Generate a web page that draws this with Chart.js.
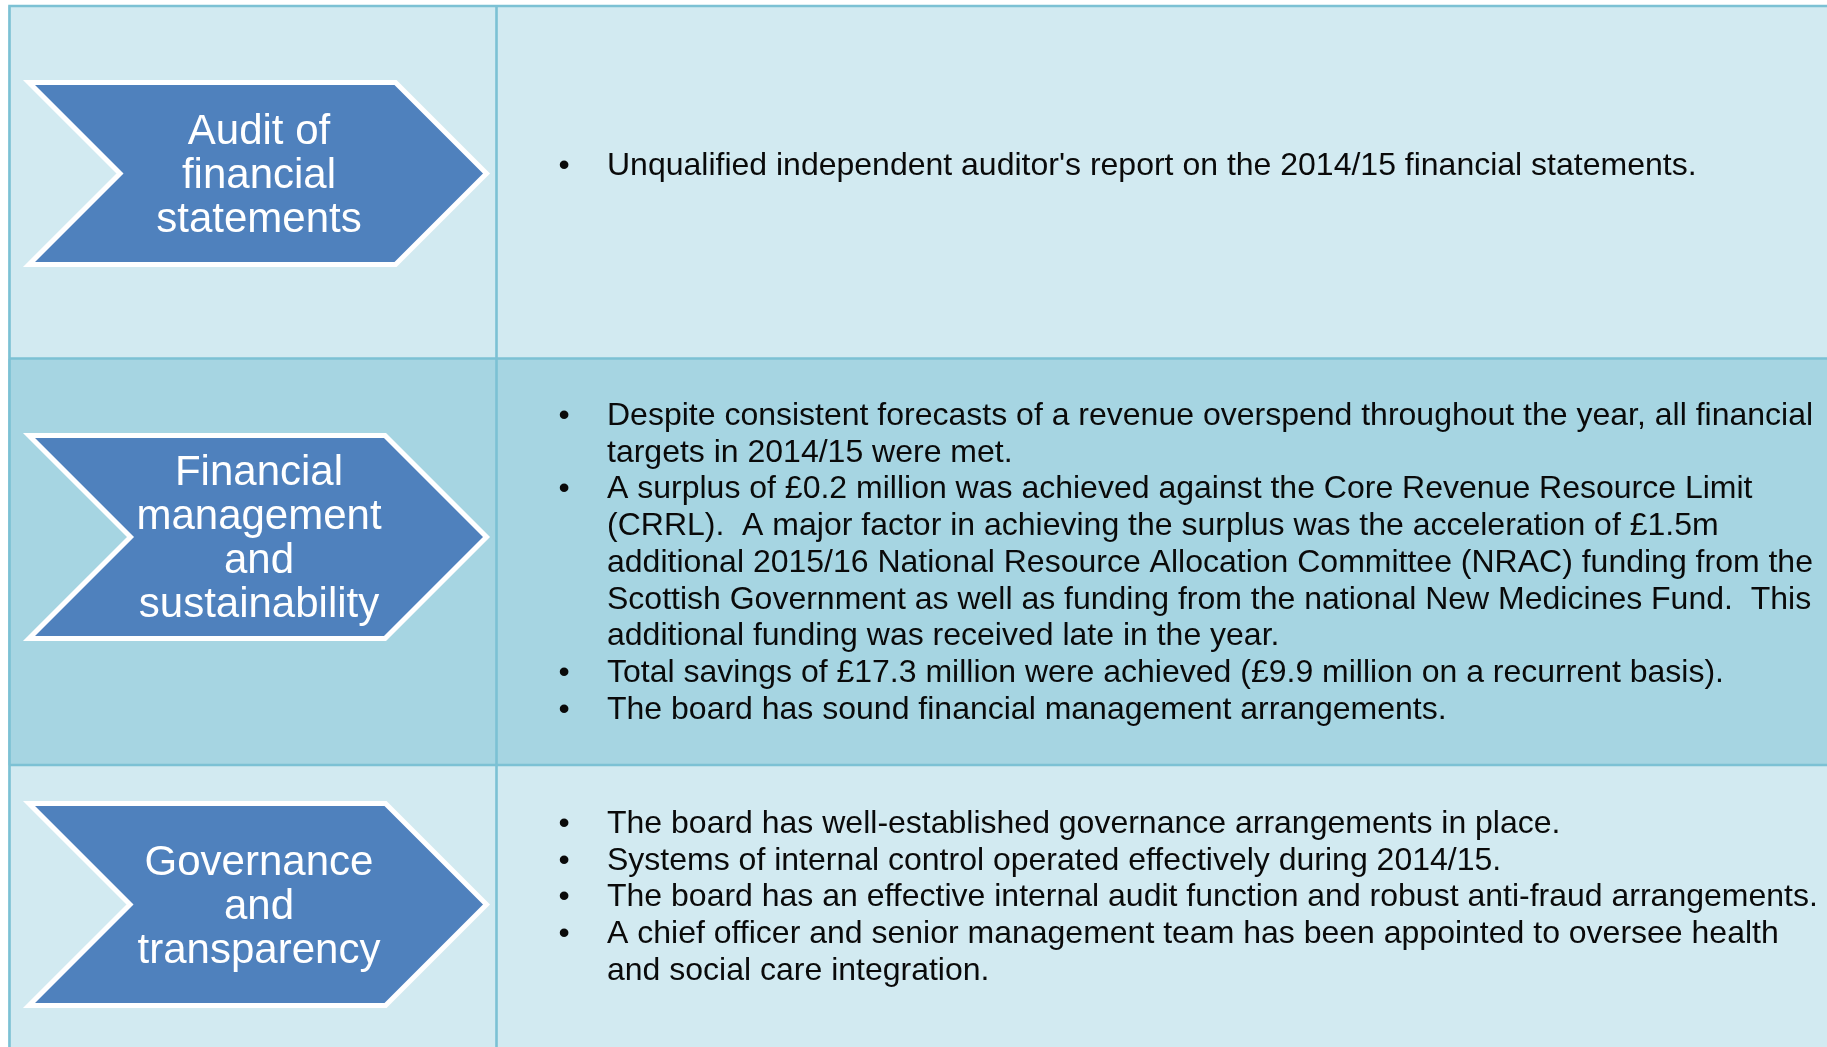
<!DOCTYPE html>
<html>
<head>
<meta charset="utf-8">
<script src="https://cdn.jsdelivr.net/npm/chart.js@4.4.1/dist/chart.umd.min.js"></script>
<style>
  html, body { margin: 0; padding: 0; background: #ffffff; overflow: hidden; }
  #wrap { position: relative; width: 1827px; height: 1047px; }
</style>
</head>
<body>
<div id="wrap"><canvas id="summaryChart"></canvas></div>
<script>
// ---- content ----
const sectionTitles = [
  ["Audit of", "financial", "statements"],
  ["Financial", "management", "and", "sustainability"],
  ["Governance", "and", "transparency"],
];

// each bullet is a list of already-wrapped lines
const auditBullets = [
  ["Unqualified independent auditor's report on the 2014/15 financial statements."],
];
const financeBullets = [
  ["Despite consistent forecasts of a revenue overspend throughout the year, all financial",
   "targets in 2014/15 were met."],
  ["A surplus of £0.2 million was achieved against the Core Revenue Resource Limit",
   "(CRRL).  A major factor in achieving the surplus was the acceleration of £1.5m",
   "additional 2015/16 National Resource Allocation Committee (NRAC) funding from the",
   "Scottish Government as well as funding from the national New Medicines Fund.  This",
   "additional funding was received late in the year."],
  ["Total savings of £17.3 million were achieved (£9.9 million on a recurrent basis)."],
  ["The board has sound financial management arrangements."],
];
const governanceBullets = [
  ["The board has well-established governance arrangements in place."],
  ["Systems of internal control operated effectively during 2014/15."],
  ["The board has an effective internal audit function and robust anti-fraud arrangements."],
  ["A chief officer and senior management team has been appointed to oversee health",
   "and social care integration."],
];
const sectionBullets = [auditBullets, financeBullets, governanceBullets];

const rowColors = ["#d2eaf1", "#a6d5e2", "#d2eaf1"];
const gridColor = "#7cc1d4";
const chevronColor = "#4f81bd";

// ---- layout (page pixels) ----
const PAGE_W = 1827;
const PAGE_H = 1047;
const tableLeft = 9.5;
const rowEdges = [6, 358.5, 765, PAGE_H];
const dividerX = 496.5;
// chevron stroke path boxes: [left, top, tip, bottom]
const chevronBoxes = [
  [29, 82.5, 486.5, 264.5],
  [29, 435.5, 486.5, 638.5],
  [29, 803.5, 486.5, 1005.5],
];
const labelCenterX = 259;
const labelLineH = 44;
const bulletX = 564;
const textX = 607;
const firstBaseline = [175, 425, 833];
const textLineH = 36.7;
const FONT = "'Liberation Sans', Arial, Helvetica, sans-serif";

function chevronPath(ctx, l, t, r, b) {
  const h = (b - t) / 2;
  const m = t + h;
  ctx.beginPath();
  ctx.moveTo(l, t);
  ctx.lineTo(r - h, t);
  ctx.lineTo(r, m);
  ctx.lineTo(r - h, b);
  ctx.lineTo(l, b);
  ctx.lineTo(l + h, m);
  ctx.closePath();
}

const tableArt = {
  id: "tableArt",
  afterDatasetsDraw(chart) {
    const ctx = chart.ctx;
    const sx = chart.scales.xPos;
    const sy = chart.scales.y;
    const X = (v) => sx.getPixelForValue(v);
    const Y = (v) => sy.getPixelForValue(v);
    ctx.save();

    // grid lines
    ctx.strokeStyle = gridColor;
    ctx.lineWidth = 2.6;
    ctx.beginPath();
    ctx.moveTo(X(tableLeft - 1.3), Y(rowEdges[0]));
    ctx.lineTo(X(PAGE_W), Y(rowEdges[0]));
    for (let i = 1; i < rowEdges.length - 1; i++) {
      ctx.moveTo(X(tableLeft), Y(rowEdges[i]));
      ctx.lineTo(X(PAGE_W), Y(rowEdges[i]));
    }
    ctx.moveTo(X(tableLeft), Y(rowEdges[0]));
    ctx.lineTo(X(tableLeft), Y(PAGE_H));
    ctx.moveTo(X(dividerX), Y(rowEdges[0]));
    ctx.lineTo(X(dividerX), Y(PAGE_H));
    ctx.stroke();

    // chevrons with labels
    sectionTitles.forEach((lines, i) => {
      const [l, t, r, b] = chevronBoxes[i];
      chevronPath(ctx, X(l), Y(t), X(r), Y(b));
      ctx.fillStyle = chevronColor;
      ctx.fill();
      ctx.lineJoin = "miter";
      ctx.miterLimit = 10;
      ctx.lineWidth = 5;
      ctx.strokeStyle = "#ffffff";
      ctx.stroke();

      const mid = (t + b) / 2;
      ctx.fillStyle = "#ffffff";
      ctx.font = `42px ${FONT}`;
      ctx.textAlign = "center";
      ctx.textBaseline = "alphabetic";
      lines.forEach((txt, k) => {
        const yy = mid + (k - (lines.length - 1) / 2) * labelLineH + 14;
        ctx.fillText(txt, X(labelCenterX), Y(yy));
      });
    });

    // bullet text
    ctx.font = `32px ${FONT}`;
    ctx.fillStyle = "#0a0a0a";
    sectionBullets.forEach((bullets, i) => {
      let yy = firstBaseline[i];
      bullets.forEach((lines) => {
        ctx.textAlign = "center";
        ctx.fillText("\u2022", X(bulletX), Y(yy));
        ctx.textAlign = "left";
        lines.forEach((txt) => {
          ctx.fillText(txt, X(textX), Y(yy));
          yy += textLineH;
        });
      });
    });

    ctx.restore();
  },
};

const rowDatasets = sectionTitles.map((lines, i) => ({
  label: lines.join(" "),
  data: [[rowEdges[i], rowEdges[i + 1]]],
  backgroundColor: rowColors[i],
  borderWidth: 0,
  grouped: false,
  barPercentage: 1,
  categoryPercentage: 1,
}));

new Chart(document.getElementById("summaryChart"), {
  type: "bar",
  data: { labels: ["summary"], datasets: rowDatasets },
  options: {
    responsive: true,
    maintainAspectRatio: false,
    animation: false,
    layout: { padding: { left: 8, right: 0, top: 0, bottom: 0 } },
    plugins: { legend: { display: false }, tooltip: { enabled: false } },
    scales: {
      x: { display: false, offset: true, grid: { display: false } },
      xPos: { type: "linear", axis: "x", display: false, offset: false, min: 8, max: PAGE_W },
      y: { type: "linear", display: false, min: 0, max: PAGE_H, reverse: true },
    },
  },
  plugins: [tableArt],
});
</script>
</body>
</html>
